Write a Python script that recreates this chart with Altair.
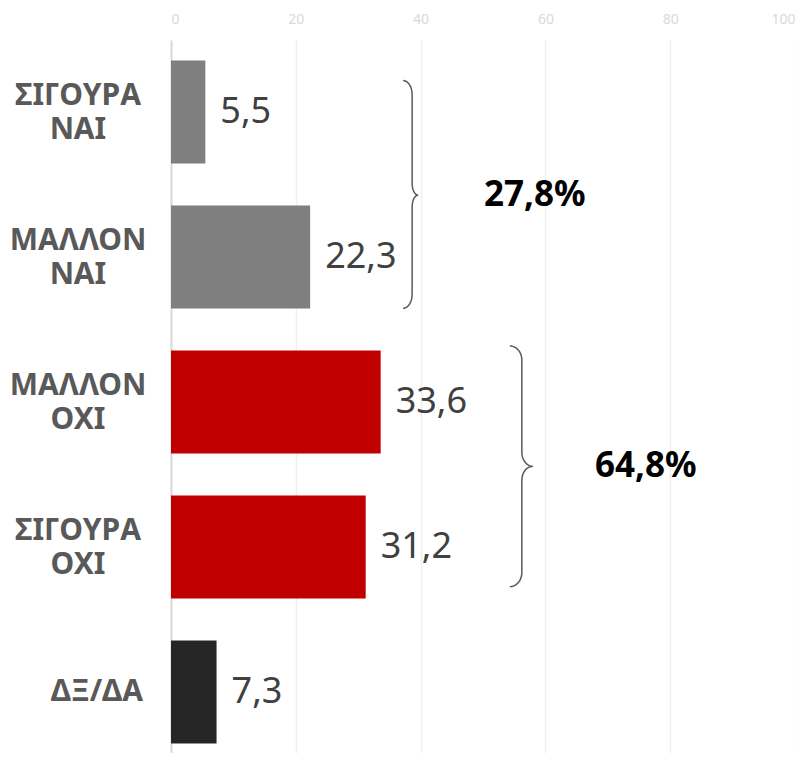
import altair as alt
import pandas as pd
import numpy as np

# ---- data ----
categories = ["ΣΙΓΟΥΡΑ\nΝΑΙ", "ΜΑΛΛΟΝ\nΝΑΙ", "ΜΑΛΛΟΝ\nΟΧΙ", "ΣΙΓΟΥΡΑ\nΟΧΙ", "ΔΞ/ΔΑ"]
values = [5.5, 22.3, 33.6, 31.2, 7.3]
bar_colors = ["#7f7f7f", "#7f7f7f", "#c00000", "#c00000", "#262626"]
x_ticks = [0, 20, 40, 60, 80, 100]

group_labels = ["27,8%", "64,8%"]
group_label_x = [58.3, 76.1]
# braces in row units (row i centre = i + 0.5)
brace_top = [0.28, 2.11]
brace_bottom = [1.85, 3.77]
brace_tip = [1.07, 2.94]
brace_x = [37.2, 54.3]

# ---- layout ----
W, H = 624, 713
STEP = 145.0
PX = W / 100.0
PI = 0.29
PO = (H / STEP - (5 - PI)) / 2
ALIGN = (72 - 51.5) / (H - STEP * (5 - PI))

df = pd.DataFrame({
    "cat": categories,
    "value": values,
    "color": bar_colors,
    "label": [f"{v:.1f}".replace(".", ",") for v in values],
})

# brace shapes (style sizes in px)
brace_style = [(9, 14, 6, 12), (12, 14, 11, 14)]
rows = []
t = np.linspace(0, np.pi / 2, 14)
for k in range(len(group_labels)):
    a, r, b, r2 = brace_style[k]
    x0 = brace_x[k] * PX
    yt, yb, yp = brace_top[k] * STEP, brace_bottom[k] * STEP, brace_tip[k] * STEP
    xs, ys = [], []
    xs += list(x0 + a * np.sin(t)); ys += list(yt + r * (1 - np.cos(t)))
    xs += list(x0 + a + b * (1 - np.cos(t))); ys += list(yp - r2 * (1 - np.sin(t)))
    tt = t[::-1]
    xs += list(x0 + a + b * (1 - np.cos(tt))); ys += list(yp + r2 * (1 - np.sin(tt)))
    xs += list(x0 + a * np.sin(tt)); ys += list(yb - r * (1 - np.cos(tt)))
    for i, (xx, yy) in enumerate(zip(xs, ys)):
        rows.append({"brace": k, "ord": i, "x": xx / PX, "u": yy / STEP})
brace_df = pd.DataFrame(rows)
grp_df = pd.DataFrame({"g": group_labels, "gx": group_label_x, "gu": brace_tip})

band_scale = alt.Scale(paddingInner=PI, paddingOuter=PO, align=ALIGN)
y_axis = alt.Axis(labels=False, ticks=False, title=None, grid=False,
                  domainColor="#d9d9d9", domainWidth=2)
Yb = alt.Y("cat:N", sort=categories, scale=band_scale, axis=y_axis)
Xq = alt.X("value:Q", scale=alt.Scale(domain=[0, 100], nice=False),
           axis=alt.Axis(orient="top", values=x_ticks, title=None, ticks=False,
                         domain=False, labelColor="#d9d9d9", labelFontSize=14,
                         labelFont="Liberation Sans Narrow, Noto Sans",
                         labelPadding=14, gridColor="#efefef", gridWidth=1.5))

bars = alt.Chart(df).mark_bar().encode(
    x=Xq, y=Yb, color=alt.Color("color:N", scale=None))

val_text = alt.Chart(df).mark_text(
    align="left", baseline="middle", dx=15, font="Noto Sans", fontSize=36,
    color="#404040").encode(x="value:Q", y=Yb, text="label:N")

cat_style = dict(baseline="middle", lineBreak="\n", lineHeight=34,
                 font="Noto Sans", fontWeight="bold", fontSize=30, color="#595959")
cat_two = alt.Chart(df).transform_filter(
    "indexof(datum.cat, '\\n') >= 0").mark_text(align="center", dy=-16, **cat_style).encode(
    x=alt.value(-93), y=Yb, text="cat:N")
cat_one = alt.Chart(df).transform_filter(
    "indexof(datum.cat, '\\n') < 0").mark_text(align="right", **cat_style).encode(
    x=alt.value(-28), y=Yb, text="cat:N")

yq = alt.Scale(domain=[0, H / STEP], reverse=True, nice=False, zero=False)
braces = alt.Chart(brace_df).mark_line(color="#595959", strokeWidth=1.5).encode(
    x="x:Q", y=alt.Y("u:Q", scale=yq, axis=None), detail="brace:N", order="ord:Q")

grp_text = alt.Chart(grp_df).mark_text(
    align="center", baseline="middle", font="Noto Sans", fontWeight="bold",
    fontSize=35, color="#000000").encode(
    x="gx:Q", y=alt.Y("gu:Q", scale=yq, axis=None), text="g:N")

chart = alt.layer(
    alt.layer(bars, val_text, cat_two, cat_one),
    alt.layer(braces, grp_text),
).resolve_scale(y="independent").properties(
    width=W, height=H,
    padding={"left": 163, "top": 32, "right": 0, "bottom": 0},
    autosize=alt.AutoSizeParams(type="none"),
).configure_view(stroke=None)

chart.save("out.html", embed_options={"renderer": "svg", "actions": False})
